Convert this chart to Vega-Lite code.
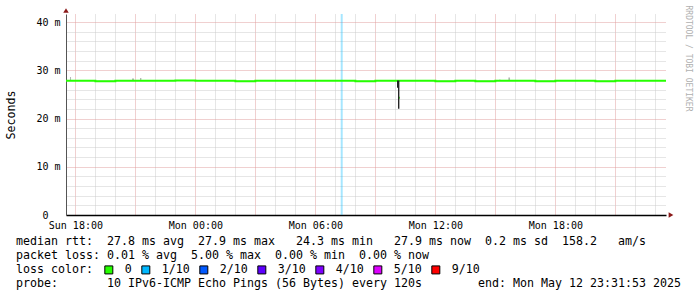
{
  "$schema": "https://vega.github.io/schema/vega-lite/v6.json",
  "width": 600,
  "height": 201,
  "autosize": {"type": "none"},
  "padding": {"left": 66, "top": 14, "right": 31, "bottom": 82},
  "background": "#ffffff",
  "title": {
    "text": [
      "median rtt:\u00a0\u00a027.8 ms avg\u00a0\u00a027.9 ms max\u00a0\u00a0\u00a024.3 ms min\u00a0\u00a0\u00a027.9 ms now\u00a0\u00a00.2 ms sd\u00a0\u00a0158.2\u00a0\u00a0\u00a0am/s",
      "packet loss: 0.01 % avg\u00a0\u00a05.00 % max\u00a0\u00a00.00 % min\u00a0\u00a00.00 % now",
      "loss color:",
      "probe:\u00a0\u00a0\u00a0\u00a0\u00a0\u00a0\u00a010 IPv6-ICMP Echo Pings (56 Bytes) every 120s\u00a0\u00a0\u00a0\u00a0\u00a0\u00a0\u00a0\u00a0end: Mon May 12 23:31:53 2025"
    ],
    "orient": "bottom",
    "anchor": "start",
    "frame": "group",
    "offset": -40,
    "dx": -50,
    "font": "DejaVu Sans Mono",
    "fontSize": 11.63,
    "fontWeight": "normal",
    "color": "#000000",
    "lineHeight": 14
  },
  "config": {
    "view": {"stroke": null},
    "axis": {"labelFont": "DejaVu Sans Mono", "titleFont": "DejaVu Sans Mono"}
  },
  "resolve": {"axis": {"x": "independent", "y": "independent"}},
  "layer": [
    {
      "data": {"values": [
        {"t": "2025-05-12T07:16:00Z", "t2": "2025-05-12T07:22:00Z", "loss": "1/10"}
      ]},
      "mark": {"type": "rect", "opacity": 0.35},
      "encoding": {
        "x": {
          "field": "t", "type": "temporal", "title": null,
          "scale": {"type": "utc", "domain": [1746984713000, 1747092713000]},
          "axis": {
            "orient": "bottom",
            "values": [1746990000000, 1746993600000, 1747000800000, 1747004400000, 1747011600000, 1747015200000, 1747022400000, 1747026000000, 1747033200000, 1747036800000, 1747044000000, 1747047600000, 1747054800000, 1747058400000, 1747065600000, 1747069200000, 1747076400000, 1747080000000, 1747087200000, 1747090800000],
            "labels": false,
            "ticks": false,
            "domain": false,
            "grid": true,
            "gridColor": "#cccccc",
            "gridDash": [1, 1],
            "gridWidth": 1
          }
        },
        "x2": {"field": "t2"},
        "fill": {
          "field": "loss", "type": "nominal",
          "scale": {"domain": ["0", "1/10", "2/10", "3/10", "4/10", "5/10", "9/10"], "range": ["#26ff00", "#00b8ff", "#0059ff", "#5e00ff", "#7e00ff", "#dd00ff", "#ff0000"]},
          "legend": {
            "title": null,
            "orient": "none",
            "legendX": 37,
            "legendY": 250,
            "direction": "horizontal",
            "symbolType": "square",
            "symbolSize": 64,
            "symbolStrokeColor": "#000000",
            "symbolStrokeWidth": 1,
            "symbolOpacity": 1,
            "labelFont": "DejaVu Sans Mono",
            "labelFontSize": 11.63,
            "labelColor": "#000000",
            "labelOffset": 10,
            "columnPadding": 7,
            "padding": 0,
            "labelLimit": 0
          }
        }
      }
    },
    {
      "data": {"values": [
        {"t": "2025-05-11T17:44:00Z", "t2": "2025-05-11T17:47:00Z", "v": 27.9, "v2": 28.6},
        {"t": "2025-05-11T20:50:00Z", "t2": "2025-05-11T20:56:00Z", "v": 27.9, "v2": 28.3},
        {"t": "2025-05-11T21:14:00Z", "t2": "2025-05-11T21:18:00Z", "v": 27.9, "v2": 28.4},
        {"t": "2025-05-12T15:12:00Z", "t2": "2025-05-12T15:15:00Z", "v": 27.9, "v2": 28.1},
        {"t": "2025-05-12T15:39:00Z", "t2": "2025-05-12T15:44:00Z", "v": 27.9, "v2": 28.5}
      ]},
      "mark": {"type": "rect", "color": "#b4b4b4"},
      "encoding": {
        "x": {
          "field": "t", "type": "temporal", "title": null,
          "axis": {
            "orient": "bottom",
            "values": [1746997200000, 1747018800000, 1747040400000, 1747062000000, 1747083600000],
            "labels": false,
            "ticks": false,
            "domain": false,
            "grid": true,
            "gridColor": "#e0a0a0",
            "gridDash": [1, 1],
            "gridWidth": 1
          }
        },
        "x2": {"field": "t2"},
        "y": {"field": "v", "type": "quantitative", "axis": null},
        "y2": {"field": "v2"}
      }
    },
    {
      "data": {"values": [
        {"t": "2025-05-11T17:31:53Z", "v": 27.8, "seg": "a"},
        {"t": "2025-05-11T18:00:00Z", "v": 27.8, "seg": "a"},
        {"t": "2025-05-11T19:00:00Z", "v": 27.7, "seg": "a"},
        {"t": "2025-05-11T20:00:00Z", "v": 27.8, "seg": "a"},
        {"t": "2025-05-11T21:00:00Z", "v": 27.8, "seg": "a"},
        {"t": "2025-05-11T22:00:00Z", "v": 27.8, "seg": "a"},
        {"t": "2025-05-11T23:00:00Z", "v": 27.9, "seg": "a"},
        {"t": "2025-05-12T00:00:00Z", "v": 27.8, "seg": "a"},
        {"t": "2025-05-12T01:00:00Z", "v": 27.8, "seg": "a"},
        {"t": "2025-05-12T02:00:00Z", "v": 27.7, "seg": "a"},
        {"t": "2025-05-12T03:00:00Z", "v": 27.8, "seg": "a"},
        {"t": "2025-05-12T04:00:00Z", "v": 27.8, "seg": "a"},
        {"t": "2025-05-12T05:00:00Z", "v": 27.8, "seg": "a"},
        {"t": "2025-05-12T06:00:00Z", "v": 27.8, "seg": "a"},
        {"t": "2025-05-12T07:00:00Z", "v": 27.8, "seg": "a"},
        {"t": "2025-05-12T08:00:00Z", "v": 27.7, "seg": "a"},
        {"t": "2025-05-12T09:00:00Z", "v": 27.8, "seg": "a"},
        {"t": "2025-05-12T10:00:00Z", "v": 27.8, "seg": "a"},
        {"t": "2025-05-12T11:00:00Z", "v": 27.8, "seg": "a"},
        {"t": "2025-05-12T12:00:00Z", "v": 27.7, "seg": "a"},
        {"t": "2025-05-12T13:00:00Z", "v": 27.8, "seg": "a"},
        {"t": "2025-05-12T14:00:00Z", "v": 27.7, "seg": "a"},
        {"t": "2025-05-12T15:00:00Z", "v": 27.8, "seg": "a"},
        {"t": "2025-05-12T16:00:00Z", "v": 27.8, "seg": "a"},
        {"t": "2025-05-12T17:00:00Z", "v": 27.7, "seg": "a"},
        {"t": "2025-05-12T18:00:00Z", "v": 27.8, "seg": "a"},
        {"t": "2025-05-12T19:00:00Z", "v": 27.8, "seg": "a"},
        {"t": "2025-05-12T20:00:00Z", "v": 27.7, "seg": "a"},
        {"t": "2025-05-12T21:00:00Z", "v": 27.8, "seg": "a"},
        {"t": "2025-05-12T22:00:00Z", "v": 27.8, "seg": "a"},
        {"t": "2025-05-12T23:00:00Z", "v": 27.8, "seg": "a"},
        {"t": "2025-05-12T23:31:53Z", "v": 27.8, "seg": "a"},
        {"t": "2025-05-12T10:10:00Z", "v": 24.3, "seg": "b"},
        {"t": "2025-05-12T10:13:00Z", "v": 24.3, "seg": "b"}
      ]},
      "mark": {"type": "line", "color": "#26ff00", "strokeWidth": 2, "interpolate": "step-after"},
      "encoding": {
        "x": {
          "field": "t", "type": "temporal", "title": null,
          "axis": {
            "orient": "bottom",
            "values": [1746986400000, 1747008000000, 1747029600000, 1747051200000, 1747072800000],
            "format": "%a %H:%M",
            "labelFontSize": 10,
            "labelColor": "#000000",
            "labelPadding": 5,
            "labelFlush": false,
            "labelOverlap": false,
            "ticks": false,
            "tickSize": 0,
            "grid": true,
            "gridColor": "#e0a0a0",
            "gridDash": [1, 1],
            "gridWidth": 1,
            "domainColor": "#000000",
            "domainWidth": 1.5
          }
        },
        "y": {
          "field": "v", "type": "quantitative",
          "scale": {"domain": [0, 41.66], "nice": false, "zero": true},
          "axis": {
            "orient": "left",
            "values": [0, 2, 4, 6, 8, 10, 12, 14, 16, 18, 20, 22, 24, 26, 28, 30, 32, 34, 36, 38, 40],
            "labelExpr": "datum.value % 10 === 0 ? (datum.value === 0 ? '0\u00a0\u00a0\u200b' : datum.value + '\u00a0m') : ''",
            "labelFontSize": 10,
            "labelColor": "#000000",
            "labelPadding": 6,
            "labelOverlap": false,
            "ticks": false,
            "tickSize": 0,
            "grid": true,
            "gridColor": {"condition": {"test": "datum.value % 10 === 0", "value": "#e0a0a0"}, "value": "#cccccc"},
            "gridDash": [1, 1],
            "gridWidth": 1,
            "domainColor": "#555555",
            "domainWidth": 1,
            "title": "Seconds",
            "titleX": -55,
            "titleY": 100.5,
            "titleAngle": -90,
            "titleAlign": "center",
            "titleBaseline": "middle",
            "titleFontSize": 11.63,
            "titleFontWeight": "normal",
            "titleColor": "#000000"
          }
        },
        "detail": {"field": "seg", "type": "nominal"}
      }
    },
    {
      "data": {"values": [
        {"t": "2025-05-12T10:05:00Z", "t2": "2025-05-12T10:08:00Z", "v": 26.4, "v2": 27.9},
        {"t": "2025-05-12T10:08:00Z", "t2": "2025-05-12T10:12:00Z", "v": 22.0, "v2": 27.9}
      ]},
      "mark": {"type": "rect", "color": "#1e1e1e"},
      "encoding": {
        "x": {"field": "t", "type": "temporal", "axis": null},
        "x2": {"field": "t2"},
        "y": {"field": "v", "type": "quantitative", "axis": null},
        "y2": {"field": "v2"}
      }
    },
    {
      "data": {"values": [{"t": "2025-05-11T17:31:53Z", "v": 41.66}]},
      "mark": {"type": "point", "shape": "triangle-up", "filled": true, "color": "#8b1a1a", "opacity": 1, "size": 30, "yOffset": -3.5},
      "encoding": {
        "x": {"field": "t", "type": "temporal", "axis": null},
        "y": {
          "field": "v", "type": "quantitative",
          "axis": {
            "orient": "right",
            "labels": false,
            "ticks": false,
            "domain": false,
            "grid": false,
            "title": "RRDTOOL / TOBI OETIKER",
            "titleAngle": 90,
            "titleX": 21,
            "titleY": -9,
            "titleAlign": "left",
            "titleBaseline": "middle",
            "titleFontSize": 8,
            "titleFontWeight": "normal",
            "titleColor": "#b0b0b0"
          }
        }
      }
    },
    {
      "data": {"values": [{"t": "2025-05-12T23:31:53Z", "v": 0}]},
      "mark": {"type": "point", "shape": "triangle-right", "filled": true, "color": "#8b1a1a", "opacity": 1, "size": 30, "xOffset": 5},
      "encoding": {
        "x": {"field": "t", "type": "temporal", "axis": null},
        "y": {"field": "v", "type": "quantitative", "axis": null}
      }
    }
  ]
}
